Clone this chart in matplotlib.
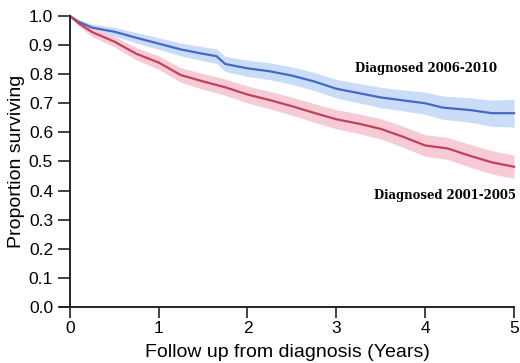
import matplotlib
matplotlib.use("Agg")
import matplotlib.pyplot as plt

# survival curves (years, proportion surviving)
blue_t = [0, 0.1, 0.25, 0.5, 0.75, 1.0, 1.25, 1.5, 1.65, 1.75, 2.0, 2.25, 2.5, 2.75,
          3.0, 3.25, 3.5, 3.75, 4.0, 4.2, 4.5, 4.75, 5.0]
blue_s = [1.0, 0.98, 0.96, 0.946, 0.925, 0.905, 0.885, 0.87, 0.862, 0.835, 0.82, 0.81,
          0.795, 0.775, 0.75, 0.735, 0.72, 0.71, 0.70, 0.685, 0.677, 0.666, 0.666]
blue_lo = [1.0, 0.972, 0.948, 0.931, 0.907, 0.885, 0.863, 0.846, 0.837, 0.809, 0.792, 0.781,
           0.765, 0.744, 0.718, 0.702, 0.685, 0.674, 0.662, 0.645, 0.635, 0.621, 0.618]
blue_hi = [1.0, 0.988, 0.972, 0.961, 0.943, 0.925, 0.907, 0.894, 0.887, 0.861, 0.848, 0.839,
           0.825, 0.806, 0.782, 0.768, 0.755, 0.746, 0.738, 0.725, 0.719, 0.711, 0.714]

red_t = [0, 0.1, 0.25, 0.5, 0.75, 1.0, 1.25, 1.5, 1.75, 2.0, 2.25, 2.5, 2.75, 3.0,
         3.25, 3.5, 3.75, 4.0, 4.25, 4.5, 4.75, 5.0]
red_s = [1.0, 0.975, 0.945, 0.912, 0.87, 0.84, 0.797, 0.775, 0.755, 0.73, 0.711, 0.69,
         0.667, 0.645, 0.63, 0.612, 0.585, 0.555, 0.545, 0.52, 0.497, 0.482]
red_lo = [1.0, 0.965, 0.93, 0.894, 0.849, 0.817, 0.772, 0.748, 0.727, 0.701, 0.681, 0.659,
          0.635, 0.612, 0.596, 0.577, 0.549, 0.518, 0.507, 0.481, 0.457, 0.442]
red_hi = [1.0, 0.985, 0.96, 0.93, 0.891, 0.863, 0.822, 0.802, 0.783, 0.759, 0.741, 0.721,
          0.699, 0.678, 0.664, 0.647, 0.621, 0.592, 0.583, 0.559, 0.537, 0.522]

labels = ["Diagnosed 2006-2010", "Diagnosed 2001-2005"]
xticks = [0, 1, 2, 3, 4, 5]
yticks = [i / 10 for i in range(11)]

plt.rcParams['font.family'] = ['Liberation Sans', 'DejaVu Sans']

fig = plt.figure(figsize=(5.2, 3.63), dpi=100)
ax = fig.add_axes([0.1154, 0.1543, 0.8731, 0.8017])

ax.fill_between(blue_t, blue_lo, blue_hi, color='#cadcf7', lw=0, clip_on=False)
ax.fill_between(red_t, red_lo, red_hi, color='#f7cbd5', lw=0, clip_on=False)
ax.plot(blue_t, blue_s, color='#4469c4', lw=1.6, clip_on=False)
ax.plot(red_t, red_s, color='#c2405e', lw=1.6, clip_on=False)

# serif labels next to the curves
ax.text(4.81, 0.821, labels[0], family='DejaVu Serif', weight='bold', fontsize=8.4,
        ha='right', va='center')
ax.text(5.02, 0.384, labels[1], family='DejaVu Serif', weight='bold', fontsize=8.4,
        ha='right', va='center')

ax.set_xlim(-0.11, 5)
ax.set_ylim(0, 1.0)
ax.spines['left'].set_position(('data', 0))
ax.spines['top'].set_visible(False)
ax.spines['right'].set_visible(False)
for s in ('left', 'bottom'):
    ax.spines[s].set_linewidth(1.4)
    ax.spines[s].set_color('#222222')
ax.set_xticks(xticks)
ax.set_yticks(yticks)
ax.set_yticklabels([f"{v:.1f}" for v in yticks])
ax.tick_params(axis='both', direction='out', length=9, width=1.2, labelsize=12.5,
               color='#222222', pad=3)
ax.tick_params(axis='x', length=8, pad=2)
ax.set_xlabel("Follow up from diagnosis (Years)", fontsize=14, labelpad=6)
ax.set_ylabel("Proportion surviving", fontsize=14, labelpad=3)

fig.savefig("out.png", dpi=100)
